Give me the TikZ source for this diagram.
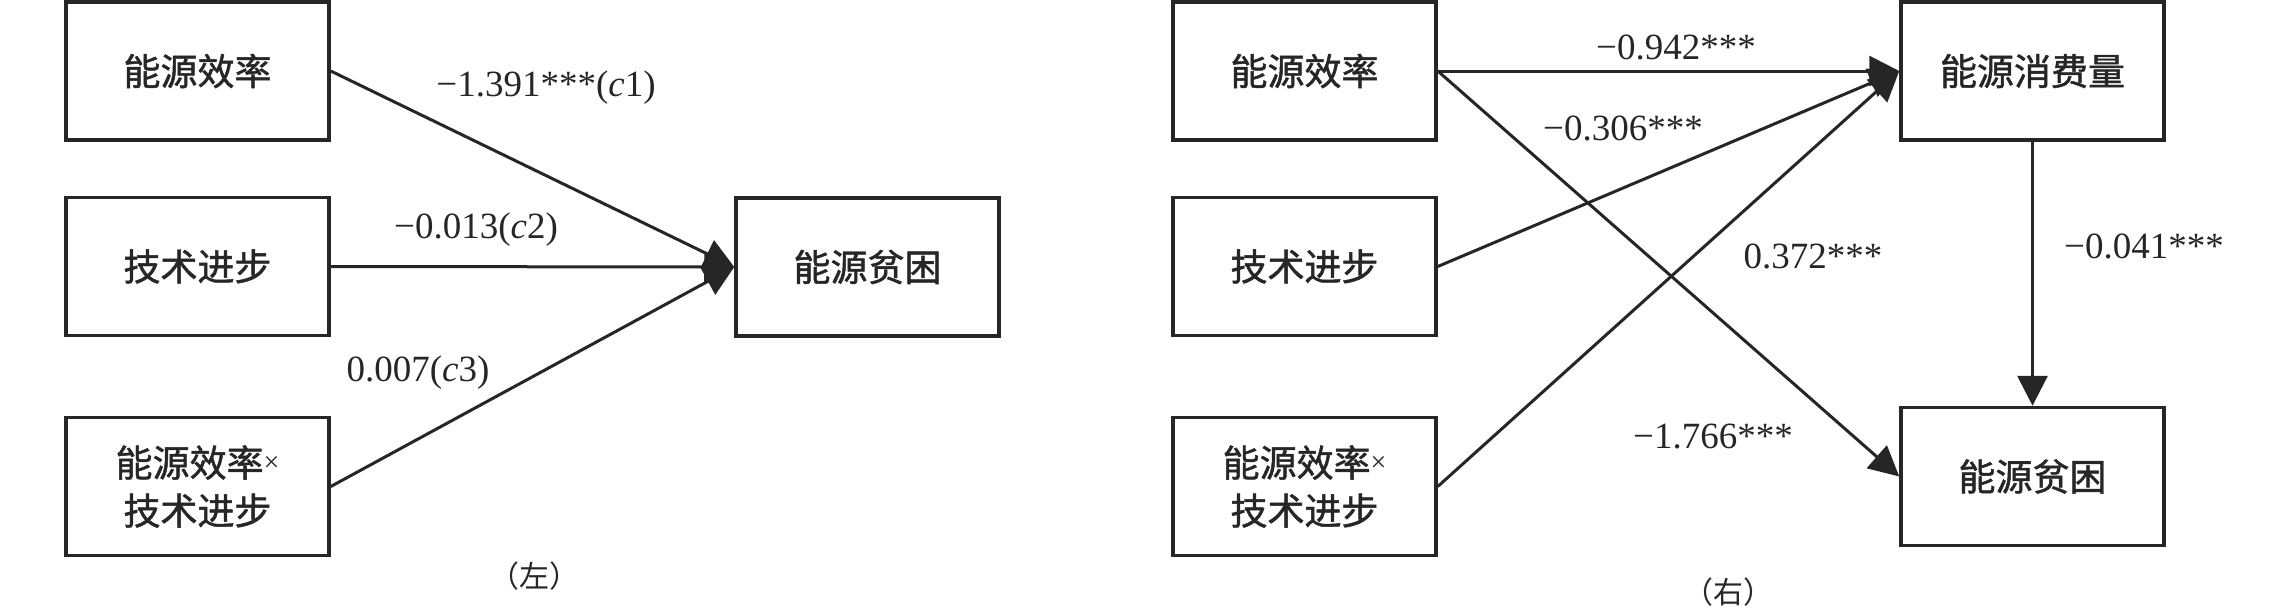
\documentclass[tikz,border=0pt]{standalone}
\usepackage{fontspec}
\setmainfont{Liberation Serif}
\newfontfamily\cjk[FakeBold=1.3]{Noto Sans CJK SC}
\newfontfamily\cjkcap{Noto Sans CJK SC}
\usetikzlibrary{arrows.meta}
\definecolor{ink}{RGB}{38,38,38}
\tikzset{
  box/.style={draw=ink, line width=3.5pt, minimum width=263pt, minimum height=138pt, inner sep=0pt, align=center, text=ink, font=\cjk\fontsize{37}{48}\selectfont},
  conn/.style={draw=ink, line width=3pt, -{Triangle[length=30pt,width=30pt]}},
  lbl/.style={text=ink, font=\fontsize{37}{40}\selectfont, inner sep=0pt},
  captext/.style={text=ink, font=\cjkcap\fontsize{30}{32}\selectfont, inner sep=0pt}
}
\newcommand{\timesx}{\raisebox{5pt}{\rmfamily\fontsize{28}{28}\selectfont ×}}
\begin{document}
\begin{tikzpicture}[x=1pt,y=-1pt]
\useasboundingbox (0,0) rectangle (2283,611);
% left panel
\node[box] (A) at (197.5,71) {能源效率};
\node[box] (B) at (197.5,266.5) {技术进步};
\node[box] (C) at (197.5,486.5) {能源效率\timesx\\技术进步};
\node[box] (D) at (867.5,267) {能源贫困};
\draw[conn] (A.east) -- (D.west);
\draw[conn] (B.east) -- (D.west);
\draw[conn] (C.east) -- (D.west);
\node[lbl] (l1) at (546,88) {−1.391***(\textit{c}1)};
\node[lbl] (l2) at (476,230) {−0.013(\textit{c}2)};
\node[lbl] (l3) at (418,373) {0.007(\textit{c}3)};
\node[captext] (capL) at (534,576) {（左）};
% right panel
\node[box] (E) at (1304.5,71) {能源效率};
\node[box] (F) at (1304.5,266.5) {技术进步};
\node[box] (G) at (1304.5,486.5) {能源效率\timesx\\技术进步};
\node[box] (H) at (2032.5,71) {能源消费量};
\node[box] (I) at (2032.5,476.5) {能源贫困};
\draw[conn] (E.east) -- (H.west);
\draw[conn] (F.east) -- (H.west);
\draw[conn] (G.east) -- (H.west);
\draw[conn] (E.east) -- (I.west);
\draw[conn] (H.south) -- (I.north);
\node[lbl] (r1) at (1676,47) {−0.942***};
\node[lbl] (r2) at (1623,128) {−0.306***};
\node[lbl] (r3) at (1813,256) {0.372***};
\node[lbl] (r4) at (1713,437) {−1.766***};
\node[lbl] (r5) at (2144,246) {−0.041***};
\node[captext] (capR) at (1728,592) {（右）};
\end{tikzpicture}
\end{document}
